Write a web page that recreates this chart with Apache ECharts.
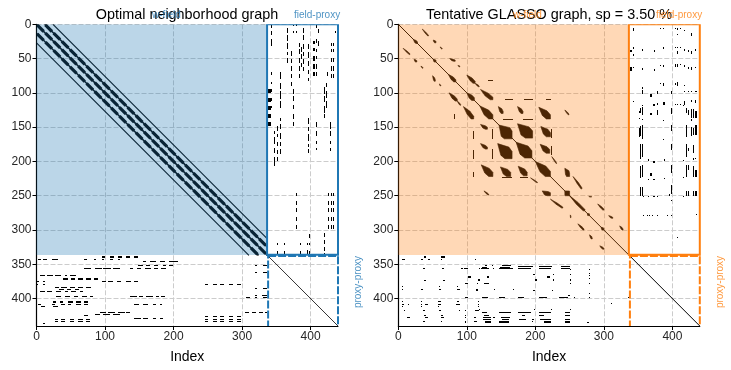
<!DOCTYPE html>
<html><head><meta charset="utf-8">
<style>html,body{margin:0;padding:0;background:#fff}#c{width:731px;height:370px}</style>
<script src="https://cdn.jsdelivr.net/npm/echarts@6/dist/echarts.min.js"></script>
</head><body><div id="c"></div>
<script>
const xTickValues = [0,100,200,300,400];
const yTickValues = [0,50,100,150,200,250,300,350,400];
const axisSpan = [0,440];
const fieldCount = 337;
const titles = ['Optimal neighborhood graph','Tentative GLASSO graph, sp = 3.50 %'];
const blockLabels = ['w-field','field-proxy','proxy-proxy'];
const colorsBlue = '#1f77b4', colorsOrange = '#ff7f0e';

// Optimal graph: diagonal offsets
const thinOffsets = [24,-27];
const lobeOffsets = [0,12,-13];
const lobeStarts = [0,12,24,36,48,60,72,84,96,108,120,132,144,156,168,180,192,204,216,228,240,252,264,276,288,300,312,324];
const lobeLength = 9.5;
// Optimal graph: proxy rows [row, height, start, end, start, end ...]
const optimalRows = [
 [340,3,95,99.5,107,113,119,125,131,136,143,148],
 [343.5,1.4,1.5,6,10,16,22,31,70,74,84,87,95,99,107,112,119,122],
 [346.5,1.2,155,160,165,175,180,188,194,207],
 [352,1.2,148,155,160,165,172,177,184,189,194,199,319.5,322,330,336],
 [355.5,1.2,70,80,85,95,97,109,112,122,137,141,146,153,158,167,172,177,182,189],
 [362,2.6,319.5,322,330,336],
 [365.7,1.2,5,12,15,24,27,36,41,45,49,57],
 [372,2.6,39,46,50,56,61,68,72,79,84,90],
 [374.5,1.2,1,3,10,12,95,102,105,112,117,124,131,138,143,148],
 [379.5,1.2,0,2,10,12,246.6,250,257,263,268.5,274,281,286.5,293,299],
 [383,1.2,27,33,36,44,49,56,61,68,72,79],
 [385,2.2,319.5,322,330,336],
 [386,1.2,33,40,44,50,56,62],
 [389,1.2,5,12,15,23,29,36,41,46,51,58,63,68],
 [395.5,1.4,319.5,322,329,336],
 [397,1.2,29,36,41,49,54,61,66,73,78,83,137,146,150,155,160,170,175,179,182,188],
 [398.5,1.4,306,311,319.5,322,330,336],
 [405,2,24,29,34,39,46,53,58,65,70,75],
 [409,1.4,1.5,6,22,27,36,41,46,51,58,65,70,75,143,150,155,163,170,175,180,183],
 [412,1.2,7,12,24,31],
 [419.5,1.2,92,102,104,114,119,129,131,136,305,310,315,320,325,330,334,336],
 [422.5,1.2,85,92,97,107,112,122],
 [424,1.2,70,75],
 [426,2,246.6,250,257,263,268.5,274,281,286.5,293,299],
 [428.5,1.2,143,153,155,163,170,175,180,185],
 [430,1.5,27,31,36,41,49,55,61,68,72,78,246.6,250,257,263,268.5,274,281,286.5,293,299],
 [434,1.5,27,31,36,41,49,55,61,68,72,78,246.6,250,257,263,268.5,274,281,286.5,293,299],
 [436,1.2,10,12]
];
// GLASSO graph: teardrop groups [xTip, yTip, xEnd, yEnd, base]
const glassoDiagonal = [
 [22,22,28,28,3],[51,51,55,55,3],[73,73,84,84,4],[100,100,111,111,5],[119,119,138,138,8],
 [147,147,166,167,15],[172,172,195,195,14],[200,200,222,222,10],[243,243,250,250,8],
 [250,250,272,272,3],[276,276,279,279,3],[296,296,300,300,3]
];
const glassoUpper = [
 [35,7,44,17,1.4],[51,23,55,27,2.4],[61,33,64,36,1],[75,50,83,54,2.4],[87,60,90,62,1],
 [100,74,112,86,4],[112,86,118,91,1.4],[120,95,138,110,5],[146,120,153,130,4],[174,120,182,130,4],
 [205,121,222,138,8],[243,125,249,132,1.4],[174,145,196,166,14],[208,149,222,164,8],[207,175,221,188,7],
 [243,210,250,222,6],[255,222,268,240,2],[224,193,231,203,1],[291,262,300,271,2],[307,279,313,283,2],
 [323,294,328,300,2],[278,251,282,252,1]
];
// GLASSO graph: short straight runs in the field block [row, height, start, end ...]
const glassoFieldRows = [
 [82.5,1.2,131,138],
 [110,1.2,155,168,184,196,215,223],
 [138,1.2,153,168,182,197],
 [223,1.2,152,166,177,190]
];
// GLASSO graph: proxy rows [row, height, start, end ...]
const glassoRows = [
 [339.7,2.6,63,68,38,40],
 [343.6,1.4,6,10,33,36,44,46,62,64,112,113],
 [352,1.2,127,130,137,138,151,165],
 [353,1.3,175,197,206,224,238,250],
 [354,1.2,121.5,129,148,163],
 [356.7,1.4,36.5,39,64,66,91,94,96,101,118,119,121,132,137.5,140,147,168,174,194,205,223,237,250],
 [358,1.2,250,251,278,279],
 [363,1.2,278,279],
 [365,1.2,197,200,226,227,250,251],
 [366.5,1.2,278,279],
 [368.8,2.6,102,106,129,132,217,221],
 [371,1.2,278,279],
 [372.7,2.4,116,119,199,202,226,227,250,251],
 [374,1.2,38,40.5,65,68],
 [377.6,1.2,97,102,115,117,125,132,278,279,250,251],
 [382,1.4,6,7,60,61,86,87],
 [387,1.4,6,7,33,36.5,60,62,85,90,113,117,140,141,168,169],
 [388.8,1.4,113,117,197,200,224,226],
 [393,1.2,278,279],
 [395,1.2,248,251],
 [398,1.4,97,101,121.5,131,147,155,174,184,205,217,235,247,256,257,278,279,335,336],
 [404,1.6,6,7,33,34,58,62,85,88,116,117],
 [406.7,1.2,310,311],
 [408,1.6,6,8,14,16,33,34,39,44,58,62,84,90,116,117],
 [411.5,1.2,6,7,33,34,58,59,116,117],
 [416.5,1.2,118,119,198,199,223,224,250,251],
 [418,1.3,8,9,36.5,39,60,62,88,89,98,99,112,118],
 [421,1.4,122,129,147,164,175,194,205,223,243,250],
 [424,1.4,38,40,63,65,98,99,125,132,180,185,205,212,243,250],
 [427.6,1.4,12,17,39,44,63,66,98,99,111,113,124,136,138,141,150,163],
 [430,1.2,124,136,151,161,176,187,195,198,207,223,243,250],
 [433,1.4,36.5,39,62,63,98,99,111,115,126,136,147,161,195,197,212,223,243,250],
 [435,1.2,98,99,126,136,147,161,212,223,243,250,276,278]
];

const chart = echarts.init(document.getElementById('c'));

function tear(p, api){
  const x0=p[0],y0=p[1],x1=p[2],y1=p[3],w=p[4];
  const mx=(x0+x1)/2,my=(y0+y1)/2,s=w*0.42,e=w*0.75;
  return [[x0,y0],[mx-s,my+s],[x1-e,y1],[x1,y1],[x1,y1-e],[mx+s,my-s]].map(q=>api.coord(q));
}
function expandRows(rows){
  const out=[];
  rows.forEach(r=>{
    for(let i=2;i<r.length;i+=2){
      out.push([r[i],r[i+1],r[0]-r[1]/2,r[0]+r[1]/2]);
      out.push([r[0]-r[1]/2,r[0]+r[1]/2,r[i],r[i+1]]);
    }
  });
  return out;
}
function rectSeries(idx, data, z){
  return {type:'custom',xAxisIndex:idx,yAxisIndex:idx,z,clip:true,silent:true,animation:false,
    data,encode:{x:[0,1],y:[2,3]},
    renderItem(params,api){
      const a=api.coord([api.value(0),api.value(2)]),b=api.coord([api.value(1),api.value(3)]);
      const x=Math.round(a[0]),y=Math.round(a[1]);
      return {type:'rect',shape:{x,y,width:Math.max(Math.round(b[0])-x,1),height:Math.max(Math.round(b[1])-y,1)},style:{fill:'#000'}};
    }};
}
function lineSeries(idx, data, z){
  return {type:'custom',xAxisIndex:idx,yAxisIndex:idx,z,clip:true,silent:true,animation:false,
    data,encode:{x:[0,2],y:[1,3]},
    renderItem(params,api){
      const a=api.coord([api.value(0),api.value(1)]),b=api.coord([api.value(2),api.value(3)]);
      return {type:'line',shape:{x1:a[0],y1:a[1],x2:b[0],y2:b[1]},style:{stroke:'#000',lineWidth:api.value(4),lineCap:'butt'}};
    }};
}
function tearSeries(idx, list){
  return {type:'custom',xAxisIndex:idx,yAxisIndex:idx,z:2,clip:true,silent:true,animation:false,
    data:list,encode:{x:[0,2],y:[1,3]},
    renderItem(params,api){
      const p=[0,1,2,3,4].map(k=>api.value(k));
      return {type:'polygon',shape:{points:tear(p,api)},style:{fill:'#000',stroke:'#000',lineWidth:0.6}};
    }};
}
function overlaySeries(idx,color){
  return {type:'custom',xAxisIndex:idx,yAxisIndex:idx,z:3,clip:true,silent:true,animation:false,
    data:[[axisSpan[0],fieldCount-0.5,axisSpan[0],fieldCount-0.5]],encode:{x:[0,1],y:[2,3]},
    renderItem(params,api){
      const a=api.coord([api.value(0),api.value(2)]),b=api.coord([api.value(1),api.value(3)]);
      return {type:'rect',shape:{x:a[0],y:a[1],width:b[0]-a[0],height:b[1]-a[1]},style:{fill:color,opacity:0.3}};
    }};
}
function boxSeries(idx,color){
  return {type:'custom',xAxisIndex:idx,yAxisIndex:idx,z:4,clip:true,silent:true,animation:false,
    data:[[fieldCount-0.5,axisSpan[1],axisSpan[0],fieldCount-1,0],[fieldCount+1,axisSpan[1],fieldCount+1,axisSpan[1]+2,1]],
    encode:{x:[0,1],y:[2,3]},
    renderItem(params,api){
      const a=api.coord([api.value(0),api.value(2)]),b=api.coord([api.value(1),api.value(3)]);
      const dashed=api.value(4)===1;
      return {type:'rect',shape:{x:a[0],y:a[1],width:b[0]-a[0],height:b[1]-a[1]},
        style:{fill:'none',stroke:color,lineWidth:2,lineDash:dashed?[8,2]:null}};
    }};
}
const axisBase=(i,inv,ticks)=>({type:'value',gridIndex:i,min:axisSpan[0],max:axisSpan[1],inverse:inv,
  axisLine:{show:true,onZero:false,lineStyle:{color:'#000',width:1.2}},
  axisTick:{show:true,length:4,customValues:ticks,lineStyle:{color:'#000',width:1}},
  axisLabel:{customValues:ticks,color:'#262626',fontSize:12,fontFamily:'Liberation Sans',margin:5,hideOverlap:false},
  splitLine:{show:true,lineStyle:{color:'#cccccc',type:[5,2],width:1}}});

const lobes=[];
lobeOffsets.forEach(o=>lobeStarts.forEach(s=>{
  const x=s+(o>0?o:0),y=s+(o<0?-o:0);
  if(Math.max(x,y)+lobeLength<=fieldCount) lobes.push([x+1,y+1,x+1+lobeLength,y+1+lobeLength,3.2]);
}));
const optimalLines=[];
lobeOffsets.concat(thinOffsets).forEach(o=>{
  const x0=o>0?o:0,y0=o<0?-o:0,len=fieldCount-Math.abs(o);
  optimalLines.push([x0,y0,x0+len,y0+len,Math.abs(o)>20?1.1:1.6]);
});
optimalLines.push([fieldCount,fieldCount,axisSpan[1],axisSpan[1],0.8]);

const mirror=list=>list.map(p=>[p[1],p[0],p[3],p[2],p[4]]);

chart.setOption({
  animation:false,backgroundColor:'#fff',
  title:[0,1].map(i=>({text:titles[i],left:i?544:182,top:3,textAlign:'center',
    textStyle:{fontSize:14.4,fontWeight:'normal',color:'#000',fontFamily:'Liberation Sans'}})),
  grid:[{left:36.5,top:24.3,width:301.5,height:301.7},{left:398.3,top:24.3,width:301.5,height:301.7}],
  xAxis:[0,1].map(i=>Object.assign(axisBase(i,false,xTickValues),{position:'bottom',name:'Index',nameLocation:'middle',nameGap:24,
    nameTextStyle:{fontSize:14,color:'#000',fontFamily:'Liberation Sans'}})),
  yAxis:[0,1].map(i=>Object.assign(axisBase(i,true,yTickValues),{position:'left'})),
  series:[
    rectSeries(0,expandRows(optimalRows),2),
    {type:'custom',xAxisIndex:0,yAxisIndex:0,z:2,clip:true,silent:true,animation:false,data:lobes,encode:{x:[0,2],y:[1,3]},
      renderItem(params,api){
        const a=api.coord([api.value(0),api.value(1)]),b=api.coord([api.value(2),api.value(3)]);
        return {type:'line',shape:{x1:a[0],y1:a[1],x2:b[0],y2:b[1]},style:{stroke:'#000',lineWidth:api.value(4),lineCap:'butt'}};
      }},
    lineSeries(0,optimalLines,2),
    overlaySeries(0,colorsBlue),
    boxSeries(0,colorsBlue),
    rectSeries(1,expandRows(glassoRows).concat(expandRows(glassoFieldRows)),2),
    tearSeries(1,glassoDiagonal.concat(glassoUpper,mirror(glassoUpper))),
    lineSeries(1,[[axisSpan[0],axisSpan[0],axisSpan[1],axisSpan[1],1]],2),
    overlaySeries(1,colorsOrange),
    boxSeries(1,colorsOrange)
  ],
  graphic:[
    {type:'text',left:152,top:10,z:10,style:{text:blockLabels[0],fill:colorsBlue,opacity:0.8,fontSize:10,fontFamily:'Liberation Sans'}},
    {type:'text',left:294,top:10,z:10,style:{text:blockLabels[1],fill:colorsBlue,opacity:0.8,fontSize:10,fontFamily:'Liberation Sans'}},
    {type:'text',x:358,y:282,rotation:Math.PI/2,z:10,style:{text:blockLabels[2],fill:colorsBlue,opacity:0.8,fontSize:10,fontFamily:'Liberation Sans',align:'center',verticalAlign:'middle'}},
    {type:'text',left:513,top:10,z:10,style:{text:blockLabels[0],fill:colorsOrange,opacity:0.8,fontSize:10,fontFamily:'Liberation Sans'}},
    {type:'text',left:656,top:10,z:10,style:{text:blockLabels[1],fill:colorsOrange,opacity:0.8,fontSize:10,fontFamily:'Liberation Sans'}},
    {type:'text',x:720.5,y:282,rotation:Math.PI/2,z:10,style:{text:blockLabels[2],fill:colorsOrange,opacity:0.8,fontSize:10,fontFamily:'Liberation Sans',align:'center',verticalAlign:'middle'}}
  ]
});
</script></body></html>
